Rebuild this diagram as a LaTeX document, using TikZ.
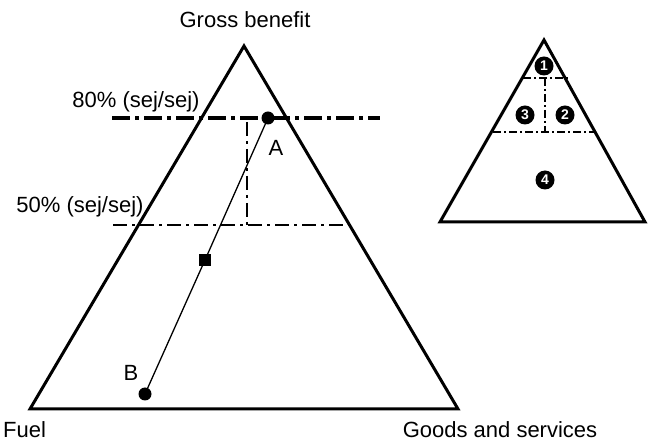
\documentclass[tikz,border=0pt]{standalone}
\usepackage{fontspec}
\setmainfont{Liberation Sans}
\begin{document}
\begin{tikzpicture}[x=1pt,y=-1pt,
  lbl/.style={font=\fontsize{22}{26}\selectfont, inner sep=0pt},
  tri/.style={line width=3pt, line join=miter},
  thickdd/.style={line width=3.5pt, dash pattern=on 18pt off 5pt on 4pt off 5pt},
  thindd/.style={line width=1.3pt, dash pattern=on 14pt off 5pt on 3pt off 5pt},
  smalldd/.style={line width=2pt, dash pattern=on 8pt off 3pt on 2pt off 3pt},
  pt/.style={circle, fill=black, minimum size=13pt, inner sep=0pt},
  sq/.style={rectangle, fill=black, minimum size=12pt, inner sep=0pt},
  num/.style={circle, fill=black, minimum size=19pt, inner sep=0pt, text=white, font=\fontsize{14}{14}\selectfont\bfseries}]
\useasboundingbox (0,0) rectangle (648,443);
% big triangle
\coordinate (T) at (244,46);
\coordinate (L) at (30,409);
\coordinate (R) at (458,409);
\draw[tri] (T) -- (L) -- (R) -- cycle;
% horizontal reference lines
\coordinate (h8a) at (112,118); \coordinate (h8b) at (380,118);
\coordinate (h5a) at (113,225); \coordinate (h5b) at (354,225);
\coordinate (va) at (247,122); \coordinate (vb) at (247,225);
\draw[thickdd] (h8a) -- (h8b);
\draw[thindd] (h5a) -- (h5b);
\draw[thindd] (va) -- (vb);
% points
\node[pt] (A) at (268,118) {};
\node[sq] (M) at (205,260) {};
\node[pt] (B) at (145,394) {};
\draw[line width=1.3pt] (A.center) -- (M.center) -- (B.center);
\node[lbl] (Al) at (276,148) {A};
\node[lbl] (Bl) at (131,373) {B};
% labels
\node[lbl] (gb) at (245,20) {Gross benefit};
\node[lbl] (p80) at (136,102) {80\% (sej/sej)};
\node[lbl] (p50) at (80,207) {50\% (sej/sej)};
\node[lbl, anchor=west] (fuel) at (3,430) {Fuel};
\node[lbl] (gs) at (500,430) {Goods and services};
% small triangle
\coordinate (t) at (544,40);
\coordinate (l) at (440,222);
\coordinate (r) at (645,222);
\draw[tri] (t) -- (l) -- (r) -- cycle;
\coordinate (s1a) at (523,78); \coordinate (s1b) at (570,78);
\coordinate (s2a) at (493,132); \coordinate (s2b) at (594,132);
\coordinate (sva) at (545,78); \coordinate (svb) at (545,132);
\draw[smalldd] (s1a) -- (s1b);
\draw[smalldd] (s2a) -- (s2b);
\draw[smalldd] (sva) -- (svb);
\node[num] (n1) at (544,66) {1};
\node[num] (n3) at (525,115) {3};
\node[num] (n2) at (565,115) {2};
\node[num] (n4) at (545,180) {4};
\end{tikzpicture}
\end{document}
